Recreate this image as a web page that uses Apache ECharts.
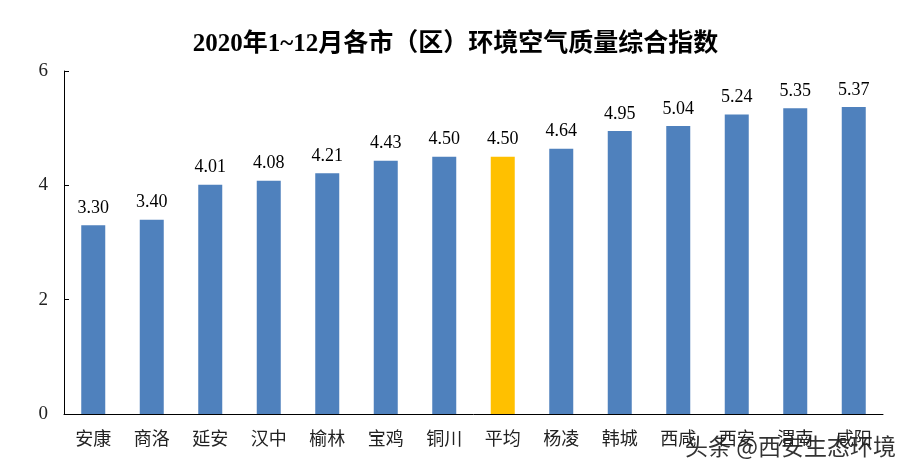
<!DOCTYPE html>
<html><head><meta charset="utf-8">
<script src="https://cdn.jsdelivr.net/npm/echarts@6/dist/echarts.min.js"></script>
<style>html,body{margin:0;padding:0;background:#fff}#c{width:911px;height:474px}</style>
</head><body><div id="c"></div>
<script>
const titleText = '2020年1~12月各市（区）环境空气质量综合指数';
const categories = ['安康','商洛','延安','汉中','榆林','宝鸡','铜川','平均','杨凌','韩城','西咸','西安','渭南','咸阳'];
const values = [3.30,3.40,4.01,4.08,4.21,4.43,4.50,4.50,4.64,4.95,5.04,5.24,5.35,5.37];
const highlightCategory = '平均';
const yTicks = [0,2,4,6];
const watermark = '头条 @西安生态环境';

const serif = '"Liberation Serif","Times New Roman","Noto Sans CJK SC",serif';
const chart = echarts.init(document.getElementById('c'));
chart.setOption({
  animation:false,
  title:{text:titleText,left:'center',top:27,textStyle:{fontFamily:serif,fontSize:25,fontWeight:'bold',color:'#000'}},
  grid:{left:64,right:28,top:71,bottom:60},
  xAxis:{type:'category',data:categories,
    axisLine:{lineStyle:{color:'#000',width:1}},axisTick:{show:false},
    axisLabel:{fontFamily:serif,fontSize:18,color:'#222',margin:17}},
  yAxis:{type:'value',min:yTicks[0],max:yTicks[yTicks.length-1],interval:2,
    axisLine:{show:true,lineStyle:{color:'#000'}},axisTick:{show:true,inside:true,length:5,lineStyle:{color:'#000'}},
    splitLine:{show:false},
    axisLabel:{fontFamily:serif,fontSize:19,color:'#222',margin:16}},
  series:[{type:'bar',barWidth:24,
    data:values.map((v,i)=>({value:v,itemStyle:{color:categories[i]===highlightCategory?'#FFC000':'#4F81BD'}})),
    label:{show:true,position:'top',distance:8,fontFamily:serif,fontSize:18,color:'#000',formatter:p=>p.value.toFixed(2)}}],
  graphic:[{type:'text',right:14,top:434,style:{text:watermark,fontFamily:'"Noto Sans CJK SC",sans-serif',fontSize:23,fill:'#333',stroke:'#fff',lineWidth:2}}]
});
</script></body></html>
